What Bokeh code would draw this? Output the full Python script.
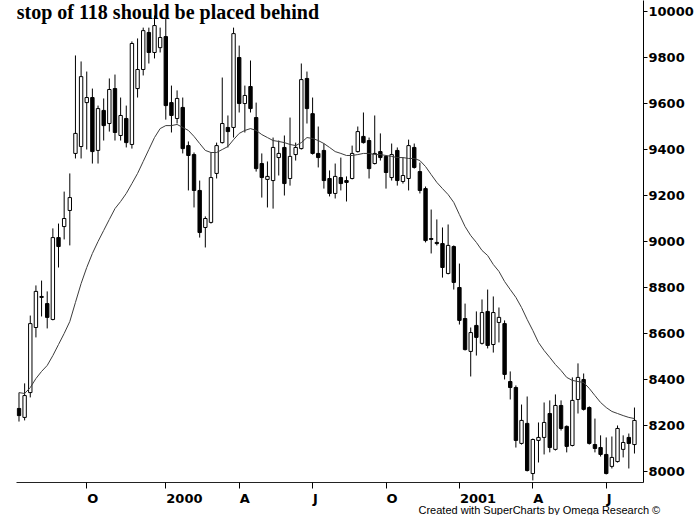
import numpy as np
from bokeh.plotting import figure
from bokeh.models import FixedTicker, Label, Title
from bokeh.embed import file_html
from bokeh.resources import INLINE

# ---- data (weekly bars) ----
opens = [8274, 8235, 8343, 8626, 8761, 8730, 8661, 9017, 9065, 9135,
         9383, 9413, 9604, 9626, 9396, 9570, 9513, 9665, 9461, 9535,
         9422, 9665, 9748, 9909, 9822, 9843, 9891, 9604, 9535, 9583,
         9417, 9378, 9222, 9061, 9083, 9296, 9430, 9496, 9496, 9800,
         9600, 9674, 9539, 9339, 9270, 9265, 9365, 9409, 9274, 9378,
         9404, 9709, 9556, 9383, 9396, 9274, 9209, 9278, 9265, 9274,
         9391, 9457, 9439, 9339, 9391, 9370, 9278, 9396, 9261, 9274,
         9409, 9304, 9230, 9013, 8996, 8991, 8861, 8978, 8800, 8665,
         8522, 8635, 8557, 8696, 8552, 8648, 8643, 8391, 8365, 8122,
         8209, 7991, 8135, 8148, 8252, 8096, 8287, 8196, 8113, 8313,
         8400, 8278, 8117, 8104, 8074, 8022, 8043, 8096, 8148, 8117]

highs = [8343, 8383, 8678, 8809, 8830, 8783, 9057, 9078, 9217, 9296,
         9809, 9783, 9739, 9665, 9591, 9622, 9709, 9726, 9626, 9591,
         9870, 9883, 9930, 9930, 9983, 9930, 9970, 9678, 9657, 9626,
         9435, 9387, 9265, 9109, 9387, 9430, 9713, 9548, 9930, 9852,
         9678, 9787, 9604, 9383, 9348, 9452, 9439, 9461, 9539, 9430,
         9774, 9739, 9626, 9500, 9426, 9309, 9339, 9365, 9283, 9417,
         9500, 9561, 9452, 9548, 9470, 9374, 9426, 9409, 9365, 9443,
         9426, 9343, 9239, 9139, 9096, 9061, 9074, 8983, 8904, 8730,
         8626, 8696, 8748, 8791, 8761, 8713, 8657, 8435, 8374, 8291,
         8326, 8143, 8213, 8300, 8309, 8335, 8309, 8200, 8409, 8470,
         8426, 8283, 8230, 8157, 8148, 8152, 8200, 8157, 8165, 8278]

lows = [8217, 8222, 8322, 8583, 8674, 8622, 8657, 8887, 9009, 8983,
        9361, 9361, 9400, 9339, 9339, 9439, 9478, 9439, 9439, 9409,
        9404, 9626, 9722, 9774, 9796, 9822, 9530, 9474, 9513, 9383,
        9222, 9148, 9017, 8974, 9078, 9274, 9426, 9409, 9452, 9561,
        9474, 9561, 9304, 9191, 9148, 9143, 9287, 9200, 9243, 9352,
        9400, 9513, 9378, 9322, 9230, 9196, 9187, 9222, 9174, 9270,
        9387, 9426, 9274, 9335, 9352, 9230, 9265, 9243, 9252, 9222,
        9317, 9209, 8996, 8948, 8983, 8843, 8857, 8791, 8639, 8526,
        8413, 8504, 8552, 8535, 8517, 8561, 8400, 8313, 8104, 8117,
        8000, 7961, 8039, 8074, 8083, 8091, 8178, 8083, 8109, 8252,
        8265, 8117, 8083, 8065, 7987, 8013, 8039, 8061, 8013, 8078]

closes = [8243, 8330, 8643, 8783, 8757, 8670, 9017, 8978, 9100, 9191,
          9470, 9717, 9626, 9391, 9578, 9504, 9661, 9474, 9548, 9430,
          9861, 9748, 9917, 9822, 9939, 9887, 9591, 9548, 9622, 9404,
          9374, 9222, 9039, 9100, 9278, 9417, 9513, 9478, 9904, 9600,
          9635, 9578, 9317, 9278, 9283, 9409, 9383, 9252, 9370, 9409,
          9704, 9578, 9383, 9365, 9265, 9209, 9283, 9252, 9257, 9383,
          9478, 9430, 9317, 9383, 9365, 9300, 9378, 9265, 9287, 9417,
          9322, 9222, 9004, 9009, 8991, 8887, 8983, 8822, 8657, 8530,
          8604, 8583, 8691, 8548, 8691, 8670, 8422, 8365, 8135, 8222,
          8004, 8139, 8148, 8213, 8104, 8287, 8187, 8109, 8309, 8409,
          8270, 8122, 8100, 8074, 7991, 8061, 8187, 8126, 8122, 8222]

moving_avg = [8343, 8339, 8365, 8404, 8435, 8461, 8504, 8552, 8600, 8652,
              8735, 8817, 8887, 8948, 9000, 9048, 9096, 9143, 9174, 9209,
              9252, 9296, 9348, 9400, 9452, 9491, 9504, 9504, 9509, 9496,
              9483, 9457, 9426, 9396, 9387, 9387, 9400, 9413, 9443, 9470,
              9483, 9491, 9483, 9465, 9452, 9439, 9435, 9430, 9422, 9417,
              9430, 9452, 9448, 9439, 9426, 9409, 9391, 9383, 9374, 9374,
              9378, 9383, 9383, 9378, 9378, 9374, 9370, 9365, 9365, 9361,
              9361, 9352, 9326, 9291, 9257, 9230, 9204, 9170, 9117, 9065,
              9026, 8996, 8961, 8939, 8900, 8870, 8826, 8791, 8757, 8713,
              8661, 8613, 8561, 8526, 8496, 8465, 8439, 8409, 8396, 8391,
              8387, 8361, 8330, 8300, 8278, 8261, 8252, 8243, 8235, 8230]

tick_weeks = [12, 26, 39, 52, 65, 78, 91, 104]
tick_labels = ["O", "2000", "A", "J", "O", "2001", "A", "J"]
price_ticks = [8000, 8200, 8400, 8600, 8800, 9000, 9200, 9400, 9600, 9800, 10000]

title_text = "stop of 118 should be placed behind"
credit_text = "Created with SuperCharts by Omega Research \u00a9"

# ---- layout constants ----
FRAME_W, FRAME_H = 627, 482
X0, X1 = -0.44, 110.6
Y0, Y1 = 7952, 10048
LABEL_PX = 13
px_per_week = FRAME_W / (X1 - X0)
# DejaVu Sans Bold advance widths (em) -> used to sit each date label just right of its tick
adv = {"O": 0.850, "A": 0.774, "J": 0.372, "0": 0.696, "1": 0.696, "2": 0.696}

def text_w(s):
    return sum(adv.get(ch, 0.65) for ch in s) * LABEL_PX

label_pos = [round(w + (0.5 + text_w(t) / 2.0) / px_per_week, 4)
             for w, t in zip(tick_weeks, tick_labels)]

# ---- build ----
week = np.arange(len(opens))
o = np.array(opens, dtype=float)
c = np.array(closes, dtype=float)
up = c >= o
dn = ~up

p = figure(frame_width=FRAME_W, frame_height=FRAME_H,
           x_range=(X0, X1), y_range=(Y0, Y1),
           y_axis_location="right",
           output_backend="svg", toolbar_location=None,
           min_border_left=16, min_border_top=0, min_border_right=53,
           min_border_bottom=33)
p.outline_line_color = None
p.grid.visible = False
p.background_fill_color = "white"
p.border_fill_color = "white"

p.segment(x0=week, y0=highs, x1=week, y1=lows, line_color="black", line_width=1)
p.vbar(x=week[up], width=0.6, top=c[up], bottom=o[up],
       fill_color="white", line_color="black", line_width=1)
p.vbar(x=week[dn], width=0.6, top=o[dn], bottom=c[dn],
       fill_color="black", line_color="black", line_width=1)
p.line(week, moving_avg, line_color="#3c3c3c", line_width=1)

# right price axis
ya = p.yaxis[0]
ya.ticker = FixedTicker(ticks=price_ticks)
ya.axis_line_color = "black"
ya.axis_line_width = 1
ya.major_tick_out = 4
ya.major_tick_in = 0
ya.minor_tick_out = 0
ya.minor_tick_in = 0
ya.major_tick_line_color = "black"
ya.major_label_standoff = 1
ya.major_label_text_font = "DejaVu Sans"
ya.major_label_text_font_style = "bold"
ya.major_label_text_font_size = f"{LABEL_PX}px"
ya.major_label_text_color = "black"

# bottom date axis: tick marks (minor ticks) at month starts, labels just to their right
xa = p.xaxis[0]
xa.ticker = FixedTicker(ticks=label_pos, minor_ticks=tick_weeks)
xa.major_label_overrides = {pos: t for pos, t in zip(label_pos, tick_labels)}
xa.axis_line_color = "#222222"
xa.axis_line_width = 1
xa.major_tick_out = 0
xa.major_tick_in = 0
xa.major_tick_line_color = None
xa.minor_tick_out = 6
xa.minor_tick_in = 0
xa.minor_tick_line_color = "black"
xa.major_label_standoff = 2
xa.major_label_text_font = "DejaVu Sans"
xa.major_label_text_font_style = "bold"
xa.major_label_text_font_size = f"{LABEL_PX}px"
xa.major_label_text_color = "black"

p.add_layout(Label(x=-0.40, y=9996, text=title_text,
                   text_align="left", text_baseline="alphabetic",
                   text_font="Liberation Serif", text_font_style="bold",
                   text_font_size="20px", text_color="black"))

credit = Title(text=credit_text, align="left", offset=402, standoff=-13,
               text_font="Liberation Sans", text_font_style="normal",
               text_font_size="11px", text_color="black")
p.add_layout(credit, "below")

open("out.html", "w").write(file_html(p, INLINE))
